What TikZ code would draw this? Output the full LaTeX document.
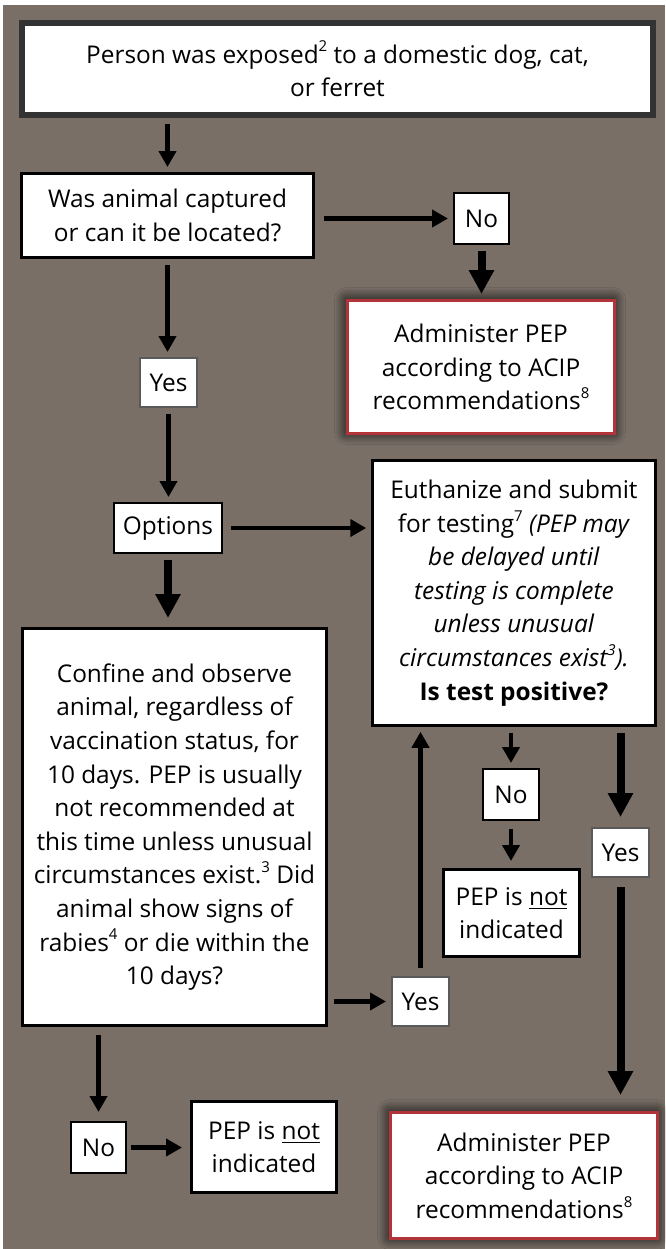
\documentclass[tikz,border=0pt]{standalone}
\usepackage{fontspec}
\setmainfont{Open Sans}
\usepackage{xcolor}
\usepackage{tikz}
\usetikzlibrary{arrows.meta,calc,shadows.blur}
\definecolor{bgbrown}{RGB}{121,111,103}
\definecolor{boxdark}{RGB}{51,51,51}
\definecolor{pepred}{RGB}{178,52,58}
\definecolor{ansgray}{RGB}{90,90,90}
\newcommand{\fnmark}[1]{\raisebox{0.85ex}{\fontsize{7.5}{7.5}\selectfont #1}}
\tikzset{
  flowbox/.style={draw=black, line width=1.5pt, fill=white, align=center, inner sep=0pt, font=\fontsize{12.2}{16.8}\selectfont},
  startbox/.style={flowbox, draw=boxdark, line width=3pt},
  answer/.style={flowbox, line width=1pt, minimum width=27.5pt, minimum height=25.5pt},
  yesbox/.style={answer, draw=ansgray, minimum width=28.5pt, minimum height=24.5pt},
  pepbox/.style={flowbox, draw=pepred, minimum width=133.5pt, blur shadow={shadow xshift=-0.5pt, shadow yshift=0.5pt, shadow blur radius=6pt, shadow blur steps=10, shadow opacity=100}},
  arr/.style={-{Triangle[width=8.5pt,length=8pt]}, line width=2.25pt, shorten <=3pt, shorten >=2.5pt},
  bigarr/.style={arr, -{Triangle[width=12pt,length=12pt]}, line width=4pt},
}

\begin{document}
\begin{tikzpicture}[x=0.5pt,y=0.5pt]
  % Canvas
  \useasboundingbox (0,0) rectangle (665,-1249);
  \fill[bgbrown] (3,-5) rectangle (665,-1249);

  % Start
  \node[startbox, minimum width=315.5pt, minimum height=46pt] (exposed) at (337.5,-69) {Person was exposed\fnmark{2} to a domestic dog, cat,\\or ferret};

  % Left column
  \node[flowbox, minimum width=146pt, minimum height=42pt] (captured) at (167.5,-215.5) {Was animal captured\\or can it be located?};
  \node[yesbox] (yes1) at (168.5,-382.5) {Yes};
  \node[flowbox, line width=1pt, minimum width=54pt, minimum height=25pt] (options) at (168,-528) {Options};
  \node[flowbox, minimum width=152pt, minimum height=198.5pt] (confine) at (174.5,-827) {Confine and observe\\animal, regardless of\\vaccination status, for\\10 days. PEP is usually\\not recommended at\\this time unless unusual\\circumstances exist.\fnmark{3} Did\\animal show signs of\\rabies\fnmark{4} or die within the\\10 days?};
  \node[answer] (no3) at (98.5,-1147.5) {No};
  \node[flowbox, minimum width=72.5pt, minimum height=45.5pt] (pep2) at (264,-1147) {PEP is \underline{not}\\indicated};

  % Right column
  \node[answer] (no1) at (481.5,-218.5) {No};
  \node[pepbox, minimum height=66.5pt] (admin1) at (481,-367) {Administer PEP\\according to ACIP\\recommendations\fnmark{8}};
  \node[flowbox, line width=1.25pt, minimum width=141.5pt, minimum height=132.5pt] (euth) at (514,-593) {Euthanize and submit\\for testing\fnmark{7} \textit{(PEP may}\\\textit{be delayed until}\\\textit{testing is complete}\\\textit{unless unusual}\\\textit{circumstances exist\fnmark{3}).}\\\textbf{Is test positive?}};
  \node[answer, minimum width=28pt] (no2) at (511,-794.5) {No};
  \node[flowbox, minimum width=68pt, minimum height=43.5pt] (pep1) at (511.5,-913) {PEP is \underline{not}\\indicated};
  \node[yesbox] (yes2) at (620.5,-852.5) {Yes};
  \node[yesbox] (yes3) at (420.5,-1001.5) {Yes};
  \node[pepbox, minimum height=63pt] (admin2) at (524,-1175.5) {Administer PEP\\according to ACIP\\recommendations\fnmark{8}};

  % Connectors
  \draw[arr] (exposed.south -| captured.north) -- (captured.north);
  \draw[arr, shorten <=4.5pt] (captured.east |- no1.west) -- (no1.west);
  \draw[bigarr] (no1.south) -- (no1.south |- admin1.north);
  \draw[arr] (captured.south) -- (captured.south |- yes1.north);
  \draw[arr] (yes1.south) -- (yes1.south |- options.north);
  \draw[arr, shorten <=4pt] (options.east) -- (options.east -| euth.west);
  \draw[bigarr, shorten >=4.5pt] (options.south) -- (options.south |- confine.north);
  \draw[arr] (euth.south -| no2.north) -- (no2.north);
  \draw[arr, shorten <=4pt, shorten >=3.5pt] (no2.south) -- (no2.south |- pep1.north);
  \draw[bigarr, shorten >=5pt] (euth.south -| yes2.north) -- (yes2.north);
  \draw[bigarr, shorten <=4.5pt, shorten >=8pt] (yes2.south) -- (yes2.south |- admin2.north);
  \draw[arr] (confine.east |- yes3.west) -- (yes3.west);
  \draw[arr, shorten <=4pt] (yes3.north) -- (yes3.north |- euth.south);
  \draw[arr, shorten <=4pt, shorten >=4.5pt] (confine.south -| no3.north) -- (no3.north);
  \draw[arr, shorten <=2pt, shorten >=4pt] (no3.east) -- (no3.east -| pep2.west);
\end{tikzpicture}
\end{document}
